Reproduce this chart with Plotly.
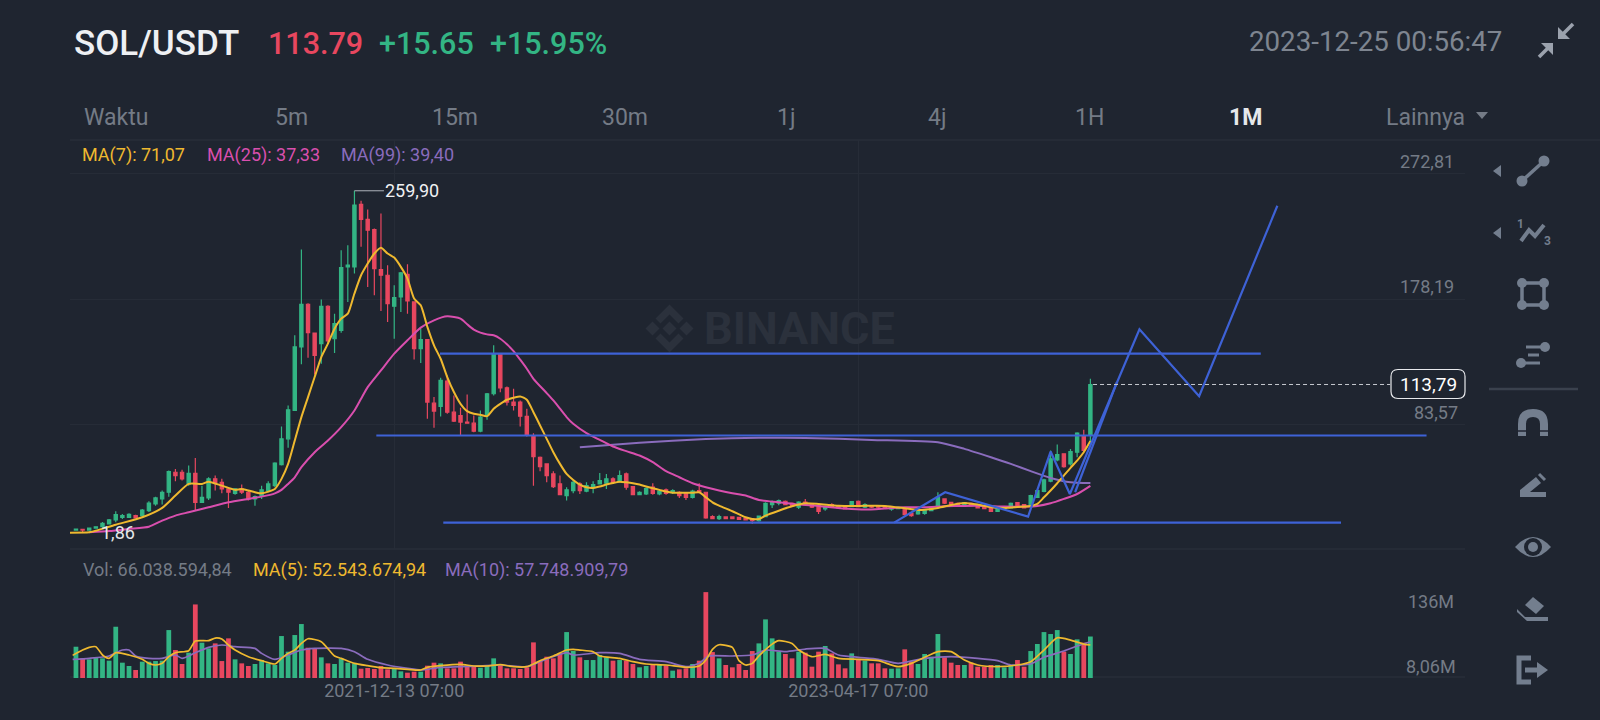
import plotly.graph_objects as go
from plotly.subplots import make_subplots

# weekly candles, index 48 = 2021-12-13, index 118 = 2023-04-17
opens = [4.0,4.5,4.0,5.5,6.5,8.6,11.6,13.6,13.6,14.9,
         14.9,18.6,23.7,27.5,32.5,47.6,47.6,38.8,46.8,24.9,
         28.2,42.6,40.0,35.0,31.7,35.0,32.5,27.5,30.0,33.8,
         37.5,53.4,72.8,94.2,142.1,174.3,152.6,144.6,172.8,148.3,
         154.6,202.5,202.5,249.6,238.3,230.7,200.5,196.2,172.8,179.8,
         196.9,176.1,140.8,147.6,99.7,97.2,116.4,92.9,90.4,85.4,
         84.6,78.6,90.4,106.8,137.0,111.3,100.5,100.5,89.7,75.3,
         58.9,53.9,46.3,38.8,30.0,33.8,38.8,33.3,35.8,38.8,
         39.3,42.6,40.8,46.3,36.8,30.7,31.2,36.3,31.2,34.3,
         32.2,32.5,31.7,28.7,33.8,32.5,14.1,12.6,13.9,13.9,
         13.6,13.1,12.6,11.0,14.1,23.2,24.2,25.7,24.2,21.2,
         25.0,23.7,22.4,19.9,23.2,22.4,21.7,21.7,25.7,21.2,
         22.4,22.4,21.9,19.7,20.2,20.7,16.6,16.1,16.6,18.6,
         22.4,27.5,24.9,24.2,22.7,24.2,23.2,21.7,20.7,18.1,
         20.2,20.7,24.7,23.2,22.4,28.7,33.2,40.8,56.9,61.5,
         53.9,62.7,75.3,75.3]
closes = [4.8,4.0,5.5,6.5,9.1,11.6,15.6,14.9,15.9,13.1,
          19.1,24.4,28.2,32.5,48.1,45.1,42.6,46.8,24.9,28.7,
          42.6,40.0,35.0,32.5,35.0,32.5,27.5,29.2,34.3,38.8,
          54.4,72.8,94.7,142.1,174.3,152.9,135.8,172.8,146.6,159.7,
          202.0,203.8,249.1,238.3,230.2,201.2,196.2,174.8,179.3,197.9,
          176.8,140.8,147.6,100.5,93.7,116.9,92.9,86.2,85.4,84.6,
          78.6,89.2,106.8,136.5,111.3,100.5,98.0,89.9,75.3,59.4,
          51.9,45.1,36.8,30.7,34.3,40.0,33.8,37.5,38.3,41.3,
          42.6,40.0,45.1,36.3,30.7,32.5,35.3,31.7,33.3,31.7,
          33.8,30.0,28.7,33.3,32.5,13.1,12.6,14.1,12.6,12.6,
          12.1,11.6,11.1,14.6,24.2,25.0,26.2,23.2,22.4,25.0,
          23.2,21.2,18.1,21.2,21.2,20.7,19.9,25.4,21.7,23.2,
          21.2,21.2,20.7,21.2,21.2,15.6,14.9,18.1,19.1,21.2,
          28.7,24.2,23.2,22.7,24.7,22.4,20.7,20.2,18.1,19.9,
          21.7,24.2,21.2,20.7,30.0,33.8,41.8,57.7,60.9,51.9,
          63.2,77.1,64.0,113.79]
highs = [5.0,4.8,5.8,6.8,10.1,12.3,18.1,16.1,16.6,15.5,
         19.9,25.7,29.2,33.8,48.9,50.1,49.4,52.6,58.4,37.5,
         43.8,45.1,42.6,36.3,35.8,38.3,33.8,30.0,37.5,40.8,
         55.2,82.1,98.0,150.9,215.6,175.0,153.0,177.8,173.5,167.2,
         215.1,218.9,259.9,252.4,245.8,231.5,242.8,203.8,188.6,198.7,
         204.5,176.5,155.9,148.0,104.3,118.9,120.6,105.5,96.2,106.3,
         90.4,94.2,107.3,143.3,137.2,112.3,110.6,101.8,95.5,77.1,
         59.4,54.4,48.4,45.1,36.3,41.8,40.0,40.0,40.8,47.1,
         46.3,43.8,48.9,47.4,37.0,33.3,36.3,39.3,34.3,35.3,
         34.8,33.3,32.5,34.3,39.3,32.8,15.1,15.6,14.3,14.3,
         14.0,13.5,13.1,15.0,24.9,26.2,27.0,26.2,24.7,25.7,
         27.5,24.2,23.2,22.4,24.2,22.9,22.2,25.9,26.2,24.2,
         22.9,22.9,22.4,21.7,21.7,21.2,17.1,18.6,19.7,21.7,
         32.5,28.0,25.4,24.7,25.2,24.7,23.7,22.2,21.2,20.4,
         22.2,24.7,25.2,23.7,30.7,34.3,42.6,64.0,68.5,62.0,
         65.2,77.8,79.6,118.1]
lows = [3.5,1.86,3.8,5.0,5.0,8.1,9.9,12.3,13.1,12.8,
        13.6,17.6,22.4,23.2,29.2,40.8,41.3,37.5,19.1,24.4,
        26.7,33.8,31.7,20.7,30.7,31.2,26.2,22.4,27.5,32.5,
        36.3,52.6,66.0,93.7,129.0,134.0,121.4,129.5,144.6,137.5,
        152.9,176.1,197.5,217.6,187.4,181.1,169.2,160.9,148.3,168.5,
        167.2,132.7,130.0,87.9,81.1,89.7,91.7,85.4,75.3,84.1,
        77.8,77.8,87.2,105.5,108.0,98.0,94.2,82.1,74.6,37.5,
        48.4,40.0,35.8,30.7,26.2,31.7,31.2,32.5,31.7,38.3,
        35.0,39.3,39.8,34.3,30.2,30.5,30.5,30.7,30.2,30.7,
        31.2,28.2,26.7,27.7,31.7,12.6,12.1,11.6,12.2,12.2,
        11.7,11.2,8.6,10.2,13.6,20.7,22.7,22.7,21.9,19.9,
        22.4,20.7,16.1,18.6,20.7,20.2,19.4,21.2,21.2,20.7,
        20.7,20.7,20.2,18.6,19.7,14.9,14.1,15.6,15.6,18.1,
        21.2,23.7,22.7,22.2,22.2,21.9,20.2,19.7,17.6,17.6,
        19.7,20.2,20.7,20.2,21.7,28.2,32.5,40.0,55.9,50.9,
        52.6,58.9,62.7,67.8]
volumes = [49.8,31.3,29.7,32.9,31.3,27.6,81.6,24.4,19.1,12.7,
           26.0,26.0,27.0,27.6,76.3,44.5,22.3,40.3,117.1,56.2,
           47.2,55.1,27.0,63.1,29.7,23.3,19.1,22.3,28.6,23.3,
           20.7,66.8,41.9,68.4,85.9,48.2,47.2,32.9,23.3,22.3,
           31.3,24.4,23.3,14.8,15.9,14.3,19.1,13.8,15.4,10.6,
           8.5,10.1,10.1,19.6,24.4,23.3,15.4,15.4,26.0,19.1,
           18.0,16.4,19.1,31.3,19.6,15.4,15.4,14.3,17.0,56.7,
           27.6,33.9,31.3,39.2,73.1,43.0,32.9,28.6,28.6,36.6,
           32.9,27.6,28.6,27.6,22.3,17.0,19.1,21.7,20.7,20.1,
           11.7,13.8,15.4,22.3,27.6,136.7,41.3,31.3,20.7,17.0,
           22.3,12.7,42.9,55.1,93.3,63.1,41.9,38.2,31.3,41.9,
           40.3,18.0,41.9,50.9,39.2,21.7,15.4,39.2,29.7,27.6,
           23.3,23.3,15.4,14.8,15.4,45.6,26.0,22.3,38.2,33.9,
           70.0,32.9,24.4,20.7,20.7,24.4,18.0,18.0,20.7,20.7,
           17.0,20.7,28.6,18.0,42.9,54.1,73.1,70.0,76.3,41.9,
           38.2,61.5,56.2,66.04]

ma7_x = [-0.9,2,3,6,10,13,15,17,19,20,22,24,25,27,28,30,31,32,33,34,35,36,37,38,39,40,41,42,43,44,45,46,47,48,49,
         50,51,52,53,54,55,56,57,58,59,60,61,62,63,64,65,66,67,68,69,70,71,72,73,74,75,76,77,78,79,80,81,82,83,84,
         85,86,87,88,89,90,91,93,94,95,96,97,99,101,102,103,104,106,108,110,112,115,118,122,125,127,130,132,134,136,
         138,140,142,144,145,146,147,148,149,150,151,152,153]
ma7 = [2.0,2.3,3.5,8.0,13.6,20.7,30.0,38.8,38.8,40.5,37.5,34.3,35.0,32.5,31.7,35.0,42.6,53.9,71.5,89.2,104.3,119.4,134.5,144.6,155.9,
       163.5,167.2,182.4,196.2,205.0,212.6,216.9,212.6,209.5,202.5,193.7,178.6,173.5,157.2,143.3,133.2,119.4,108.1,99.2,93.7,
       91.7,90.9,89.9,95.5,99.2,102.3,103.8,104.8,102.3,92.9,82.9,72.8,62.7,53.9,46.3,41.8,38.3,36.3,35.8,36.8,38.3,39.5,40.5,40.0,39.3,
       38.3,36.8,35.5,34.3,33.0,32.2,32.2,32.2,32.5,28.7,24.9,22.4,18.2,13.6,12.3,12.3,14.9,18.6,21.9,24.2,23.7,22.4,22.2,22.2,20.4,19.1,20.7,22.9,24.4,23.2,
       21.2,20.7,21.4,22.2,23.7,28.7,33.8,39.3,45.1,50.9,56.4,62.7,71.07]
ma25_x = [2,5,8,11,13,15,17,20,23,26,28,30,31,32,33,34,36,38,40,42,43,44,46,48,50,52,54,56,58,59,60,61,62,63,64,65,66,67,68,69,
          71,72,73,74,75,77,79,81,83,85,87,89,91,93,95,97,99,101,103,106,109,112,116,119,122,125,128,131,134,137,140,143,145,147,149,151,153]
ma25 = [2.3,3.2,4.8,6.5,11.1,14.9,17.4,21.2,24.9,27.5,29.2,31.7,34.3,38.8,43.8,51.4,62.7,71.5,81.6,94.2,103.0,111.8,124.4,137.0,147.1,156.7,
        162.2,165.2,163.5,159.2,155.2,152.9,151.6,150.9,148.3,144.1,139.0,132.5,125.7,118.1,107.3,101.8,95.5,89.2,84.1,77.1,72.0,67.0,63.5,60.2,
        55.2,48.4,43.8,39.3,36.3,33.8,31.7,30.0,26.7,25.0,23.2,22.2,20.2,19.4,20.2,21.2,21.2,21.9,22.2,22.2,21.7,21.7,22.2,24.2,27.5,31.2,37.33]
ma99_x = [76,85,95,103,110,120,130,134,138,141,144,147,150,153]
ma99 = [66.5,69.8,72.6,73.6,73.5,72.0,70.3,65.2,58.9,53.9,48.4,43.3,40.0,39.40]

vol_ma5_x = [-0.5,1,2,3,4,5,6,8,10,11,12,13,14,15,17,18,20,21,22,23,24,26,28,30,31,32,33,34,35,37,39,40,42,44,46,48,50,52,53,55,58,60,62,64,66,68,
             69,70,72,74,75,76,78,79,82,84,86,89,92,94,95,96,97,99,100,101,102,103,105,106,108,109,111,113,115,118,121,124,126,128,130,132,134,136,139,142,
             144,146,148,150,152,153]
vol_ma5 = [36.0,44.5,48.8,49.8,36.6,31.3,40.3,36.6,29.7,23.3,20.7,23.3,33.9,40.3,43.5,58.8,59.4,63.6,62.0,52.5,44.5,33.9,27.6,22.3,31.3,39.2,44.5,55.1,62.5,57.8,35.0,31.3,
           23.3,19.6,16.4,15.4,13.8,12.7,17.0,19.6,21.7,19.1,19.1,21.2,18.0,18.0,22.3,27.6,35.0,44.5,45.6,44.5,41.9,35.0,31.3,26.0,22.3,20.7,17.0,19.1,28.6,45.6,53.0,48.8,27.6,20.7,
           23.3,35.0,54.0,59.4,55.0,44.5,33.9,37.6,31.3,29.7,27.6,18.0,23.3,32.9,41.9,41.9,28.6,20.7,18.0,20.7,26.0,44.5,64.0,60.4,54.0,52.54]
vol_ma10_x = [-0.5,2,5,7,8,9,11,13,15,16,18,20,22,24,27,28,30,32,34,36,40,42,44,47,50,52,55,58,61,64,68,70,74,75,79,82,85,89,92,94,95.4,99,102,104,107,110,113,115,118,121,124,128,132,136,139,141,144,146,149,151,153]
vol_ma10 = [29.7,31.3,35.0,44.5,44.5,35.0,31.3,31.3,36.6,31.3,40.3,48.8,52.5,49.8,47.2,39.2,29.7,36.6,44.5,47.2,47.2,41.9,29.7,20.7,15.4,12.7,17.0,18.0,19.1,20.7,18.0,26.0,40.3,36.6,40.3,39.2,29.7,26.0,18.0,23.3,35.0,35.0,36.6,44.5,41.9,46.1,47.2,36.6,32.9,29.7,23.3,31.3,33.9,31.3,27.6,20.7,22.3,32.9,42.9,50.9,57.75]

# hand drawn lines on the chart
level_top_x, level_top = [54.9, 178.7], [137.0, 137.0]
level_mid_x, level_mid = [45.3, 203.7], [75.3, 75.3]
level_low_x, level_low = [55.4, 190.8], [9.6, 9.6]
path_x = [123.4, 131.1, 143.6, 147, 149.9, 160.4, 169.4, 181.2]
path_y = [9.6, 32.5, 14.1, 63.2, 31.2, 155.4, 105.0, 248.6]
path2_x = [150.7, 157]
path2_y = [32.5, 115.6]

BG = "#1f2530"
GREEN = "#33b584"
RED = "#e8475f"
YELLOW = "#efb92f"
PINK = "#d94fae"
PURPLE = "#8a6cbd"
BLUE = "#3e62d6"
GREY = "#747b86"
GRID = "#262c37"
ICON = "#737e8e"
FONT = "Roboto"

W, H = 1600, 720


def px(x, y):
    return x / W, 1 - y / H


def label(x, y, text, size, color, anchor="left", weight=400):
    xp, yp = px(x, y)
    return dict(x=xp, y=yp, xref="paper", yref="paper", text=text, showarrow=False, xanchor=anchor, yanchor="middle",
                font=dict(family=FONT, size=size, color=color, weight=weight))


def poly(pts, fill=ICON, width=0, color=None, closed=True, layer="above"):
    s = ""
    for k, (x, y) in enumerate(pts):
        xp, yp = px(x, y)
        s += ("M" if k == 0 else "L") + " %.5f %.5f " % (xp, yp)
    if closed:
        s += "Z"
    d = dict(type="path", path=s, xref="paper", yref="paper", layer=layer, line=dict(width=width, color=color or ICON))
    if closed:
        d["fillcolor"] = fill
    return d


def dot(cx, cy, r, fill=ICON):
    x0, y0 = px(cx - r, cy - r)
    x1, y1 = px(cx + r, cy + r)
    return dict(type="circle", xref="paper", yref="paper", x0=x0, y0=y0, x1=x1, y1=y1, fillcolor=fill, line=dict(width=0), layer="above")


def curve(cmds, fill=None, width=0, color=ICON):
    # cmds: list of (letter, x, y, ...) in pixels
    s = ""
    for c in cmds:
        s += c[0]
        for n in range(1, len(c), 2):
            xp, yp = px(c[n], c[n + 1])
            s += " %.5f %.5f " % (xp, yp)
    d = dict(type="path", path=s, xref="paper", yref="paper", layer="above", line=dict(width=width, color=color))
    if fill:
        s += "Z"
        d["path"] = s
        d["fillcolor"] = fill
    return d


fig = make_subplots(rows=2, cols=1, shared_xaxes=False)

idx = list(range(len(closes)))
fig.add_trace(go.Candlestick(x=idx, open=opens, high=highs, low=lows, close=closes,
                             increasing=dict(line=dict(color=GREEN, width=1.2), fillcolor=GREEN),
                             decreasing=dict(line=dict(color=RED, width=1.2), fillcolor=RED),
                             whiskerwidth=0, hoverinfo="skip"), row=1, col=1)
for xs, ys, col in [(ma99_x, ma99, PURPLE), (ma25_x, ma25, PINK), (ma7_x, ma7, YELLOW)]:
    fig.add_trace(go.Scatter(x=xs, y=ys, mode="lines", line=dict(color=col, width=2, shape="spline", smoothing=0.6), hoverinfo="skip"), row=1, col=1)
for xs, ys in [(level_top_x, level_top), (level_mid_x, level_mid), (level_low_x, level_low), (path_x, path_y), (path2_x, path2_y)]:
    fig.add_trace(go.Scatter(x=xs, y=ys, mode="lines", line=dict(color=BLUE, width=2.2), hoverinfo="skip"), row=1, col=1)

vol_colors = [GREEN if c >= o else RED for o, c in zip(opens, closes)]
fig.add_trace(go.Bar(x=idx, y=volumes, marker=dict(color=vol_colors, line=dict(width=0)), width=0.72, hoverinfo="skip"), row=2, col=1)
for xs, ys, col in [(vol_ma10_x, vol_ma10, PURPLE), (vol_ma5_x, vol_ma5, YELLOW)]:
    fig.add_trace(go.Scatter(x=xs, y=ys, mode="lines", line=dict(color=col, width=1.7, shape="spline", smoothing=0.6), hoverinfo="skip"), row=2, col=1)

x_range = [-0.9, 209.5]
x_domain = [70 / W, 1465 / W]
fig.update_xaxes(range=x_range, domain=x_domain, showgrid=True, gridcolor=GRID, gridwidth=1, zeroline=False, showline=False,
                 tickvals=[48, 118], rangeslider=dict(visible=False))
fig.update_xaxes(showticklabels=False, ticks="", row=1, col=1)
fig.update_xaxes(ticktext=["2021-12-13 07:00", "2023-04-17 07:00"], ticks="", tickfont=dict(family=FONT, size=18, color=GREY), row=2, col=1)
fig.update_yaxes(range=[-10.3, 298.2], domain=[1 - 549 / H, 1 - 140 / H], tickvals=[83.57, 178.19, 272.81], showticklabels=False,
                 gridcolor=GRID, gridwidth=1, zeroline=False, showline=False, row=1, col=1)
fig.update_yaxes(range=[0, 156], domain=[1 - 678 / H, 1 - 580 / H], showticklabels=False, showgrid=False, zeroline=False, showline=False, row=2, col=1)

notes = [
    label(72, 43, "SOL/USDT", 35, "#eef0f3", weight=500),
    label(266, 43, "113.79", 30.5, RED, weight=500),
    label(377, 43, "+15.65", 30.5, GREEN, weight=500),
    label(488, 43, "+15.95%", 30.5, GREEN, weight=500),
    label(1504, 41, "2023-12-25 00:56:47", 27.7, "#7e8590", "right"),
    label(82, 118, "Waktu", 23, GREY),
    label(291, 118, "5m", 23, GREY, "center"),
    label(455, 118, "15m", 23, GREY, "center"),
    label(624.5, 118, "30m", 23, GREY, "center"),
    label(786, 118, "1j", 23, GREY, "center"),
    label(937, 118, "4j", 23, GREY, "center"),
    label(1089, 118, "1H", 23, GREY, "center"),
    label(1245, 118, "1M", 23, "#e6e8eb", "center", weight=700),
    label(1425.5, 118, "Lainnya", 23, GREY, "center"),
    label(79.5, 155, "MA(7): 71,07", 18, YELLOW),
    label(204.5, 155, "MA(25): 37,33", 18, PINK),
    label(338.5, 155, "MA(99): 39,40", 18, PURPLE),
    label(81, 569.5, "Vol: 66.038.594,84", 18, GREY),
    label(251, 569.5, "MA(5): 52.543.674,94", 18, YELLOW),
    label(443, 569.5, "MA(10): 57.748.909,79", 18, PURPLE),
    label(1456, 601, "136M", 18, GREY, "right"),
    label(1458, 666, "8,06M", 18, GREY, "right"),
    label(799, 329, "BINANCE", 45, "#2b313c", "center", weight=700),
    label(1428, 384, "113,79", 19, "#ffffff", "center"),
]
for val, txt, xr in [(272.81, "272,81", 1456), (178.19, "178,19", 1456), (83.57, "83,57", 1460)]:
    notes.append(dict(x=xr / W, xref="paper", y=val, yref="y", yshift=12.5, text=txt, showarrow=False, xanchor="right",
                      font=dict(family=FONT, size=18, color=GREY)))
# high and low markers
notes.append(dict(x=42, y=max(highs), xref="x", yref="y", ax=58, ay=0, text="259,90", showarrow=True, arrowhead=0, arrowwidth=1,
                  arrowcolor="#aeb3bb", standoff=0, font=dict(family=FONT, size=18, color="#f0f1f3")))
notes.append(dict(x=6.3, y=min(lows), xref="x", yref="y", text="1,86", showarrow=False, font=dict(family=FONT, size=18, color="#e6e8eb")))
c = 1533
notes.append(label(c - 13, 224, "1", 12, ICON, "center", weight=700))
notes.append(label(c + 14, 241, "3", 12, ICON, "center", weight=700))

shapes = []
# panel separators
for yy, x0 in [(140, 70), (549, 70), (677, 70)]:
    a, b = px(x0, yy)
    e, _ = px(1600 if yy == 140 else 1465, yy)
    shapes.append(dict(type="line", xref="paper", yref="paper", x0=a, x1=e, y0=b, y1=b, line=dict(color="#2c323d", width=1), layer="below"))
# last price line and box
shapes.append(dict(type="line", xref="x", yref="y", x0=153.4, x1=198.2, y0=closes[-1], y1=closes[-1],
                   line=dict(color="#c6c9cf", width=1, dash="4px,3px"), layer="above"))
bx0, bx1, by0, by1, r = 1391, 1465, 369.5, 398.5, 7
shapes.append(curve([("M", bx0 + r, by0), ("L", bx1 - r, by0), ("Q", bx1, by0, bx1, by0 + r), ("L", bx1, by1 - r), ("Q", bx1, by1, bx1 - r, by1),
                     ("L", bx0 + r, by1), ("Q", bx0, by1, bx0, by1 - r), ("L", bx0, by0 + r), ("Q", bx0, by0, bx0 + r, by0)], fill=BG, width=1.2, color="#e8e9ec"))

# watermark logo
wx, wy = 669.5, 328.5
for cxx, cyy in [(wx, wy), (wx - 17, wy), (wx + 17, wy)]:
    shapes.append(poly([(cxx, cyy - 7), (cxx + 7, cyy), (cxx, cyy + 7), (cxx - 7, cyy)], fill="#2b313c", layer="below"))
for sgn in (-1, 1):
    shapes.append(poly([(wx, wy + sgn * 24), (wx + 14, wy + sgn * 10), (wx + 9, wy + sgn * 5), (wx, wy + sgn * 14), (wx - 9, wy + sgn * 5), (wx - 14, wy + sgn * 10)],
                       fill="#2b313c", layer="below"))

# header icons
shapes.append(poly([(1476, 112), (1488, 112), (1482, 119)], fill=GREY))
shapes.append(poly([(1558, 39), (1558, 27), (1570, 39)], fill="#9ba2ad", width=0))
shapes.append(poly([(1563, 34), (1573, 24)], closed=False, width=3.5, color="#9ba2ad"))
shapes.append(poly([(1553, 43), (1553, 55), (1541, 43)], fill="#9ba2ad", width=0))
shapes.append(poly([(1548, 48), (1539, 57)], closed=False, width=3.5, color="#9ba2ad"))

# toolbar
a, b = px(1489, 389)
e, _ = px(1578, 389)
shapes.append(dict(type="line", xref="paper", yref="paper", x0=a, x1=e, y0=b, y1=b, line=dict(color="#3a414d", width=2.5), layer="above"))
for ty in (171, 233):
    shapes.append(poly([(1501, ty - 6), (1493, ty), (1501, ty + 6)]))
shapes.append(poly([(c - 11, 181), (c + 11, 161)], closed=False, width=3.5))
shapes += [dot(c - 11, 181, 5.5), dot(c + 11, 161, 5.5)]
shapes.append(poly([(c - 12, 241), (c - 4, 230), (c + 2, 236), (c + 11, 225)], closed=False, width=4))
shapes.append(poly([(c - 11, 283), (c + 11, 283), (c + 11, 305), (c - 11, 305), (c - 11, 283)], closed=False, width=3.5))
shapes += [dot(c - 11, 283, 5), dot(c + 11, 283, 5), dot(c - 11, 305, 5), dot(c + 11, 305, 5)]
shapes.append(poly([(c - 7, 347), (c + 12, 347)], closed=False, width=3))
shapes.append(poly([(c - 5, 355), (c + 6, 355)], closed=False, width=3))
shapes.append(poly([(c - 12, 363), (c + 7, 363)], closed=False, width=3))
shapes += [dot(c + 12, 347, 5), dot(c - 12, 363, 5)]
shapes.append(curve([("M", c - 11, 436), ("L", c - 11, 424), ("Q", c - 11, 413, c, 413), ("Q", c + 11, 413, c + 11, 424), ("L", c + 11, 436)], width=8))
shapes.append(poly([(c - 16, 431), (c - 6, 431)], closed=False, width=1.5, color=BG))
shapes.append(poly([(c + 6, 431), (c + 16, 431)], closed=False, width=1.5, color=BG))
shapes.append(poly([(c - 13, 497), (c + 13, 497), (c + 13, 492), (c - 3, 492), (c + 8, 483), (c + 3, 477), (c - 13, 490)]))
shapes.append(poly([(c + 6, 474), (c + 12, 480)], closed=False, width=3))
shapes.append(curve([("M", c - 18, 547), ("Q", c, 527, c + 18, 547), ("Q", c, 567, c - 18, 547)], fill=ICON))
shapes += [dot(c, 547, 9, BG), dot(c, 547, 5)]
shapes.append(poly([(c, 597), (c + 11, 606), (c + 3, 614), (c - 8, 605)]))
shapes.append(poly([(c - 16, 609), (c - 8, 617), (c + 15, 617), (c + 15, 621), (c - 6, 621), (c - 16, 612)]))
shapes.append(poly([(c - 2, 658), (c - 14, 658), (c - 14, 682), (c - 2, 682)], closed=False, width=5))
shapes.append(poly([(c - 8, 670), (c + 6, 670)], closed=False, width=5))
shapes.append(poly([(c + 4, 662), (c + 15, 670), (c + 4, 678)]))

fig.update_layout(width=W, height=H, margin=dict(l=0, r=0, t=0, b=0), paper_bgcolor=BG, plot_bgcolor=BG, showlegend=False,
                  annotations=notes, shapes=shapes, font=dict(family=FONT), bargap=0.25)

# page default margin would shift the whole chart by 8px
fig.write_html("out.html", config={"displayModeBar": False},
               post_script="document.body.style.margin='0';document.body.style.background='%s';" % BG)
